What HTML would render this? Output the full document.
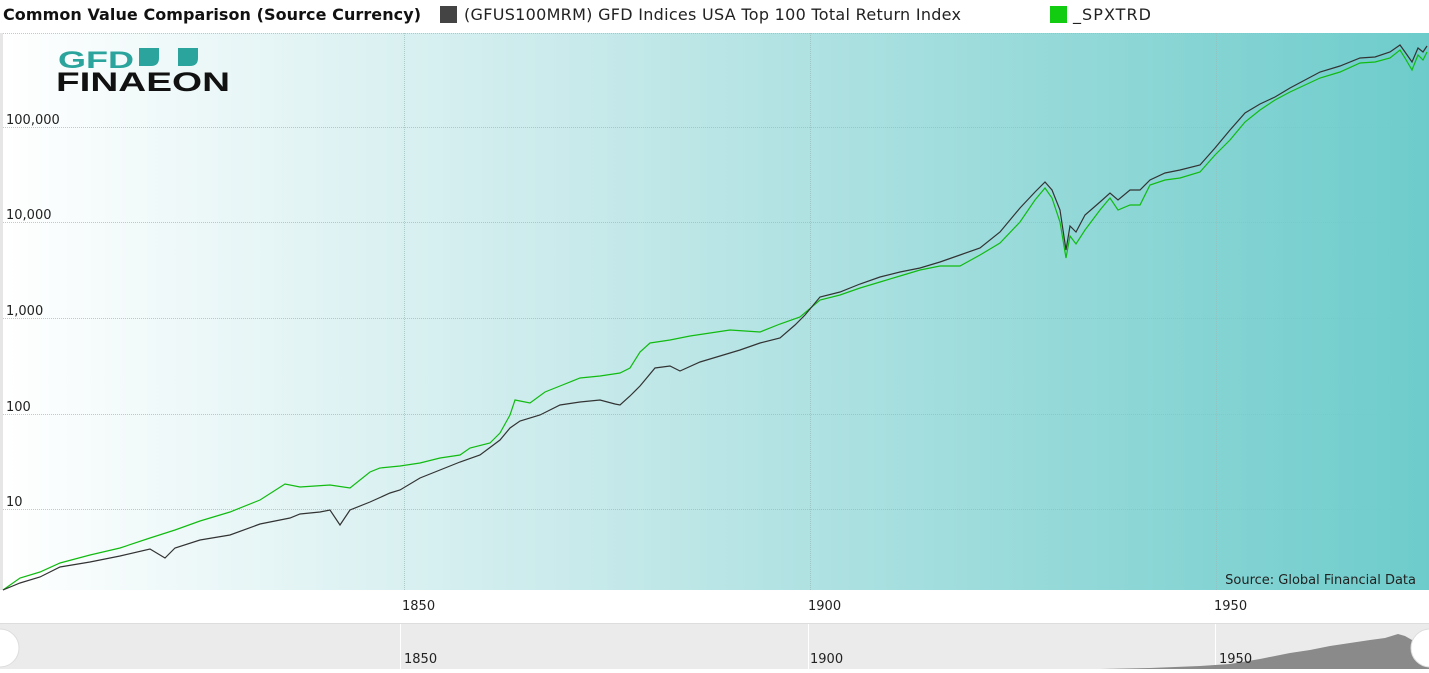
<!DOCTYPE html>
<html><head><meta charset="utf-8"><style>
body{margin:0;width:1429px;height:669px;overflow:hidden;background:#fff;font-family:"DejaVu Sans","Liberation Sans",sans-serif;}
</style></head><body>
<svg width="1429" height="669" xmlns="http://www.w3.org/2000/svg" font-family="DejaVu Sans, Liberation Sans, sans-serif">
<defs><linearGradient id="g" x1="0" x2="1" y1="0" y2="0"><stop offset="0" stop-color="#ffffff"/><stop offset="0.4" stop-color="#c9eaeb"/><stop offset="1" stop-color="#6dcccb"/></linearGradient></defs>
<text x="3" y="20" font-size="16" font-weight="bold" fill="#111" textLength="418">Common Value Comparison (Source Currency)</text>
<rect x="440" y="6" width="17" height="17" fill="#444"/>
<text x="464" y="20" font-size="16" fill="#222" textLength="497">(GFUS100MRM) GFD Indices USA Top 100 Total Return Index</text>
<rect x="1050" y="6" width="17" height="17" fill="#11cc11"/>
<text x="1073" y="20" font-size="16" fill="#222" textLength="78">_SPXTRD</text>
<rect x="3" y="33" width="1426" height="557" fill="url(#g)"/>
<rect x="0" y="33" width="3" height="557" fill="#e6e6e6"/>
<g stroke="#9bb" stroke-width="1" stroke-dasharray="1,1" opacity="0.7">
<line x1="3" x2="1429" y1="33.5" y2="33.5"/>
<line x1="3" x2="1429" y1="127.5" y2="127.5"/><line x1="3" x2="1429" y1="222.5" y2="222.5"/>
<line x1="3" x2="1429" y1="318.5" y2="318.5"/><line x1="3" x2="1429" y1="414.5" y2="414.5"/>
<line x1="3" x2="1429" y1="509.5" y2="509.5"/>
<line x1="404.5" x2="404.5" y1="33" y2="590"/><line x1="810.5" x2="810.5" y1="33" y2="590"/><line x1="1216.5" x2="1216.5" y1="33" y2="590"/>
</g>
<g font-size="13" fill="#222"><text x="6" y="124">100,000</text><text x="6" y="219">10,000</text><text x="6" y="315">1,000</text><text x="6" y="411">100</text><text x="6" y="506">10</text></g>
<text x="58" y="68" font-size="24" font-weight="bold" fill="#2aa49c" font-family="Liberation Sans, sans-serif" textLength="76" lengthAdjust="spacingAndGlyphs">GFD</text>
<path d="M139 48h20v10q0 8-8 8h-12z M178 48h20v10q0 8-8 8h-12z" fill="#2aa49c"/>
<text x="56" y="91" font-size="27" font-weight="bold" fill="#111" font-family="Liberation Sans, sans-serif" textLength="174" lengthAdjust="spacingAndGlyphs">FINAEON</text>
<polyline fill="none" stroke="#11bb11" stroke-width="1.2" points="3,590 20,578 40,572 60,563 90,555 120,548 150,538 175,530 200,521 230,512 260,500 285,484 300,487 330,485 350,488 370,472 380,468 400,466 420,463 440,458 460,455 470,448 490,443 500,433 510,415 515,400 530,403 545,392 560,386 580,378 600,376 620,373 630,368 640,352 650,343 670,340 690,336 710,333 730,330 760,332 780,324 800,317 820,300 840,295 860,288 880,282 900,276 920,270 940,266 960,266 980,255 1000,243 1020,222 1035,200 1045,188 1052,198 1060,222 1066,258 1070,236 1076,244 1085,230 1100,210 1110,198 1118,210 1130,205 1140,205 1150,185 1165,180 1180,178 1200,172 1215,155 1230,140 1245,122 1260,110 1275,100 1290,92 1305,85 1320,78 1340,72 1360,63 1375,62 1390,58 1400,50 1405,58 1412,70 1418,55 1423,60 1427,52"/>
<polyline fill="none" stroke="#333" stroke-width="1.2" points="3,590 20,583 40,577 60,567 90,562 120,556 150,549 165,558 175,548 200,540 230,535 260,524 290,518 300,514 320,512 330,510 340,525 350,510 370,502 390,493 400,490 420,478 440,470 460,462 480,455 500,440 510,428 520,421 540,415 560,405 580,402 600,400 615,404 620,405 630,396 640,386 655,368 670,366 680,371 700,362 720,356 740,350 760,343 780,338 795,325 805,315 820,297 840,292 860,284 880,277 900,272 920,268 940,262 960,255 980,248 1000,232 1020,208 1035,192 1045,182 1052,190 1060,210 1066,250 1070,226 1076,232 1085,215 1100,202 1110,193 1118,200 1130,190 1140,190 1150,180 1165,173 1180,170 1200,165 1215,148 1230,130 1245,113 1260,104 1275,97 1290,88 1305,80 1320,72 1340,66 1360,58 1375,57 1390,52 1400,45 1405,52 1412,62 1418,48 1423,52 1427,46"/>
<text x="1416" y="584" font-size="13" fill="#222" text-anchor="end">Source: Global Financial Data</text>
<g font-size="13" fill="#222"><text x="402" y="610">1850</text><text x="808" y="610">1900</text><text x="1214" y="610">1950</text></g>
<rect x="0" y="624" width="1429" height="45" fill="#ebebeb"/>
<line x1="0" x2="1429" y1="623.5" y2="623.5" stroke="#ddd"/>
<g stroke="#fff"><line x1="400.5" x2="400.5" y1="624" y2="669"/><line x1="808.5" x2="808.5" y1="624" y2="669"/><line x1="1215.5" x2="1215.5" y1="624" y2="669"/></g>
<polygon fill="#8a8a8a" points="1100,669 1150,668 1200,666 1230,664 1260,659 1290,653 1310,650 1330,646 1350,643 1370,640 1385,638 1398,634 1405,636 1412,640 1420,637 1429,636 1429,669"/>
<g font-size="13" fill="#222"><text x="404" y="663">1850</text><text x="810" y="663">1900</text><text x="1219" y="663">1950</text></g>
<circle cx="0" cy="648" r="19" fill="#fff" stroke="#ddd"/>
<circle cx="1430" cy="648" r="19" fill="#fff" stroke="#ddd"/>
</svg>
</body></html>
